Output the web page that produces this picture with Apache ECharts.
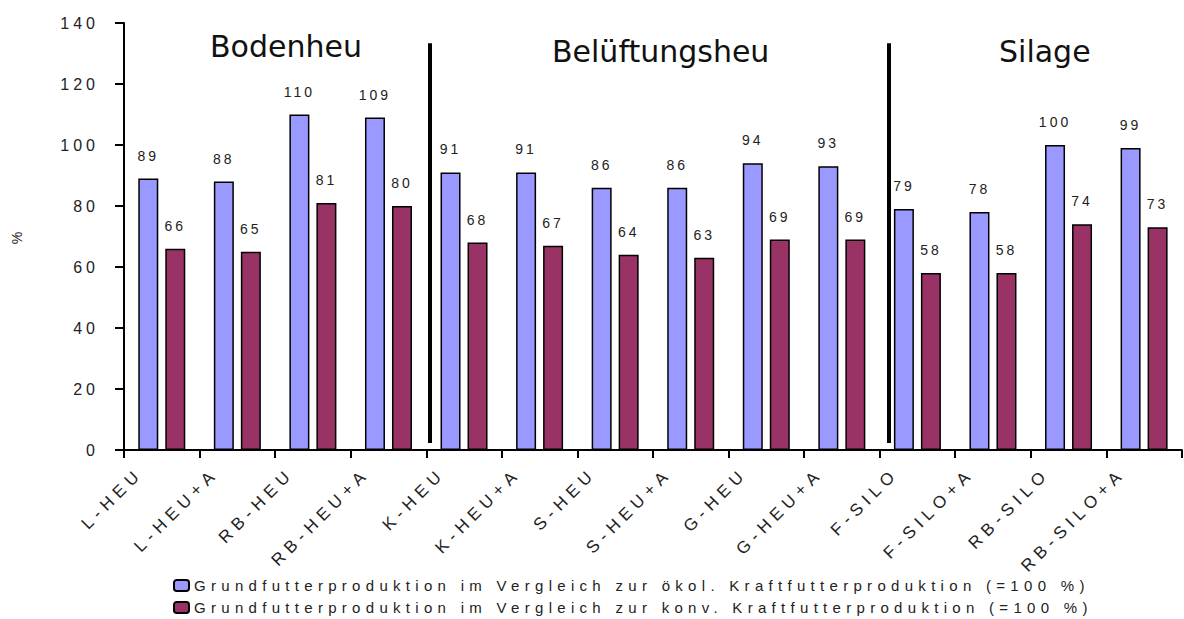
<!DOCTYPE html>
<html>
<head>
<meta charset="utf-8">
<script src="https://cdn.jsdelivr.net/npm/echarts@6/dist/echarts.min.js"></script>
<style>
  html, body { margin: 0; padding: 0; background: #fff; }
  #chart { width: 1184px; height: 619px; }
  /* gesperrte Schrift wie im Original */
  #chart text { letter-spacing: 3px; }
  #chart text[style*="16px"] { letter-spacing: 4px; }
  #chart text[style*="17px"] { letter-spacing: 5.5px; }
  #chart text[style*="15px"] { letter-spacing: 5.3px; }
  #chart text[style*="30px"] { letter-spacing: 0; }
</style>
</head>
<body>
<div id="chart"></div>
<script>
const categories = [
  "L-HEU", "L-HEU+A", "RB-HEU", "RB-HEU+A", "K-HEU", "K-HEU+A", "S-HEU",
  "S-HEU+A", "G-HEU", "G-HEU+A", "F-SILO", "F-SILO+A", "RB-SILO", "RB-SILO+A"
];
const oekolValues = [89, 88, 110, 109, 91, 91, 86, 86, 94, 93, 79, 78, 100, 99];
const konvValues = [66, 65, 81, 80, 68, 67, 64, 63, 69, 69, 58, 58, 74, 73];
const seriesNames = [
  "Grundfutterproduktion im Vergleich zur ökol. Kraftfutterproduktion (=100 %)",
  "Grundfutterproduktion im Vergleich zur konv. Kraftfutterproduktion (=100 %)"
];
const groupNames = ["Bodenheu", "Belüftungsheu", "Silage"];
// Trennlinien zwischen den Gruppen (in Kategorie-Einheiten)
const separators = [4.05, 10.12];

const colors = ["#9999ff", "#993366"];

const myChart = echarts.init(document.getElementById("chart"), null, { renderer: "svg" });

const labelOption = {
  show: true,
  position: "top",
  distance: 16,
  fontSize: 14,
  fontFamily: "Liberation Sans",
  color: "#222",
};

const options = {
  animation: false,
  grid: { left: 124, right: 1, top: 23, bottom: 169, containLabel: false },
  legend: {
    orient: "vertical",
    left: 173,
    top: 578,
    height: 60,
    padding: 0,
    itemGap: 7,
    itemWidth: 15,
    itemHeight: 11,
    itemStyle: { borderColor: "#000", borderWidth: 2 },
    textStyle: { fontSize: 15, fontFamily: "Liberation Sans", color: "#222" },
    data: seriesNames,
  },
  xAxis: [
    {
      type: "category",
      data: categories,
      boundaryGap: true,
      axisLine: { lineStyle: { color: "#000", width: 2 } },
      axisTick: { show: false },
      axisLabel: { show: false },
    },
    {
      type: "value",
      position: "bottom",
      min: 0,
      max: 14,
      interval: 1,
      axisLine: { show: false },
      axisTick: { show: true, length: 8, lineStyle: { color: "#000", width: 2 } },
      splitLine: { show: false },
      axisLabel: {
        rotate: 45,
        margin: 5,
        fontSize: 17,
        fontFamily: "Liberation Sans",
        color: "#222",
        verticalAlign: "top",
        lineHeight: 45,
        formatter: (v) => categories[v] || "",
      },
    },
  ],
  yAxis: {
    type: "value",
    min: 0,
    max: 140,
    interval: 20,
    name: "%",
    nameLocation: "middle",
    nameRotate: 90,
    nameGap: 100,
    nameTextStyle: { fontSize: 14, fontFamily: "Liberation Sans", color: "#222" },
    axisLine: { show: true, lineStyle: { color: "#000", width: 2 } },
    axisTick: { show: true, length: 9, lineStyle: { color: "#000", width: 2 } },
    splitLine: { show: false },
    axisLabel: { margin: 25, fontSize: 16, fontFamily: "Liberation Sans", color: "#222" },
  },
  series: [
    {
      name: seriesNames[0],
      type: "bar",
      barWidth: 20,
      barGap: "35%",
      itemStyle: { color: colors[0], borderColor: "#000", borderWidth: 1.5 },
      label: labelOption,
      data: oekolValues,
    },
    {
      name: seriesNames[1],
      type: "bar",
      barWidth: 20,
      barGap: "35%",
      itemStyle: { color: colors[1], borderColor: "#000", borderWidth: 1.5 },
      label: labelOption,
      data: konvValues,
    },
    {
      // Gruppentrennlinien
      type: "scatter",
      xAxisIndex: 1,
      data: [],
      silent: true,
      markLine: {
        symbol: "none",
        silent: true,
        label: { show: false },
        lineStyle: { color: "#000", width: 4, type: "solid" },
        data: separators.map((s) => [{ coord: [s, 2.3] }, { coord: [s, 133.4] }]),
      },
    },
  ],
  graphic: [
    { type: "text", left: 210, top: 31, style: { text: groupNames[0], fontSize: 30, fontFamily: "DejaVu Sans", fill: "#111" } },
    { type: "text", left: 552, top: 36, style: { text: groupNames[1], fontSize: 30, fontFamily: "DejaVu Sans", fill: "#111" } },
    { type: "text", left: 999, top: 36, style: { text: groupNames[2], fontSize: 30, fontFamily: "DejaVu Sans", fill: "#111" } },
  ],
};

myChart.setOption(options);
</script>
</body>
</html>
